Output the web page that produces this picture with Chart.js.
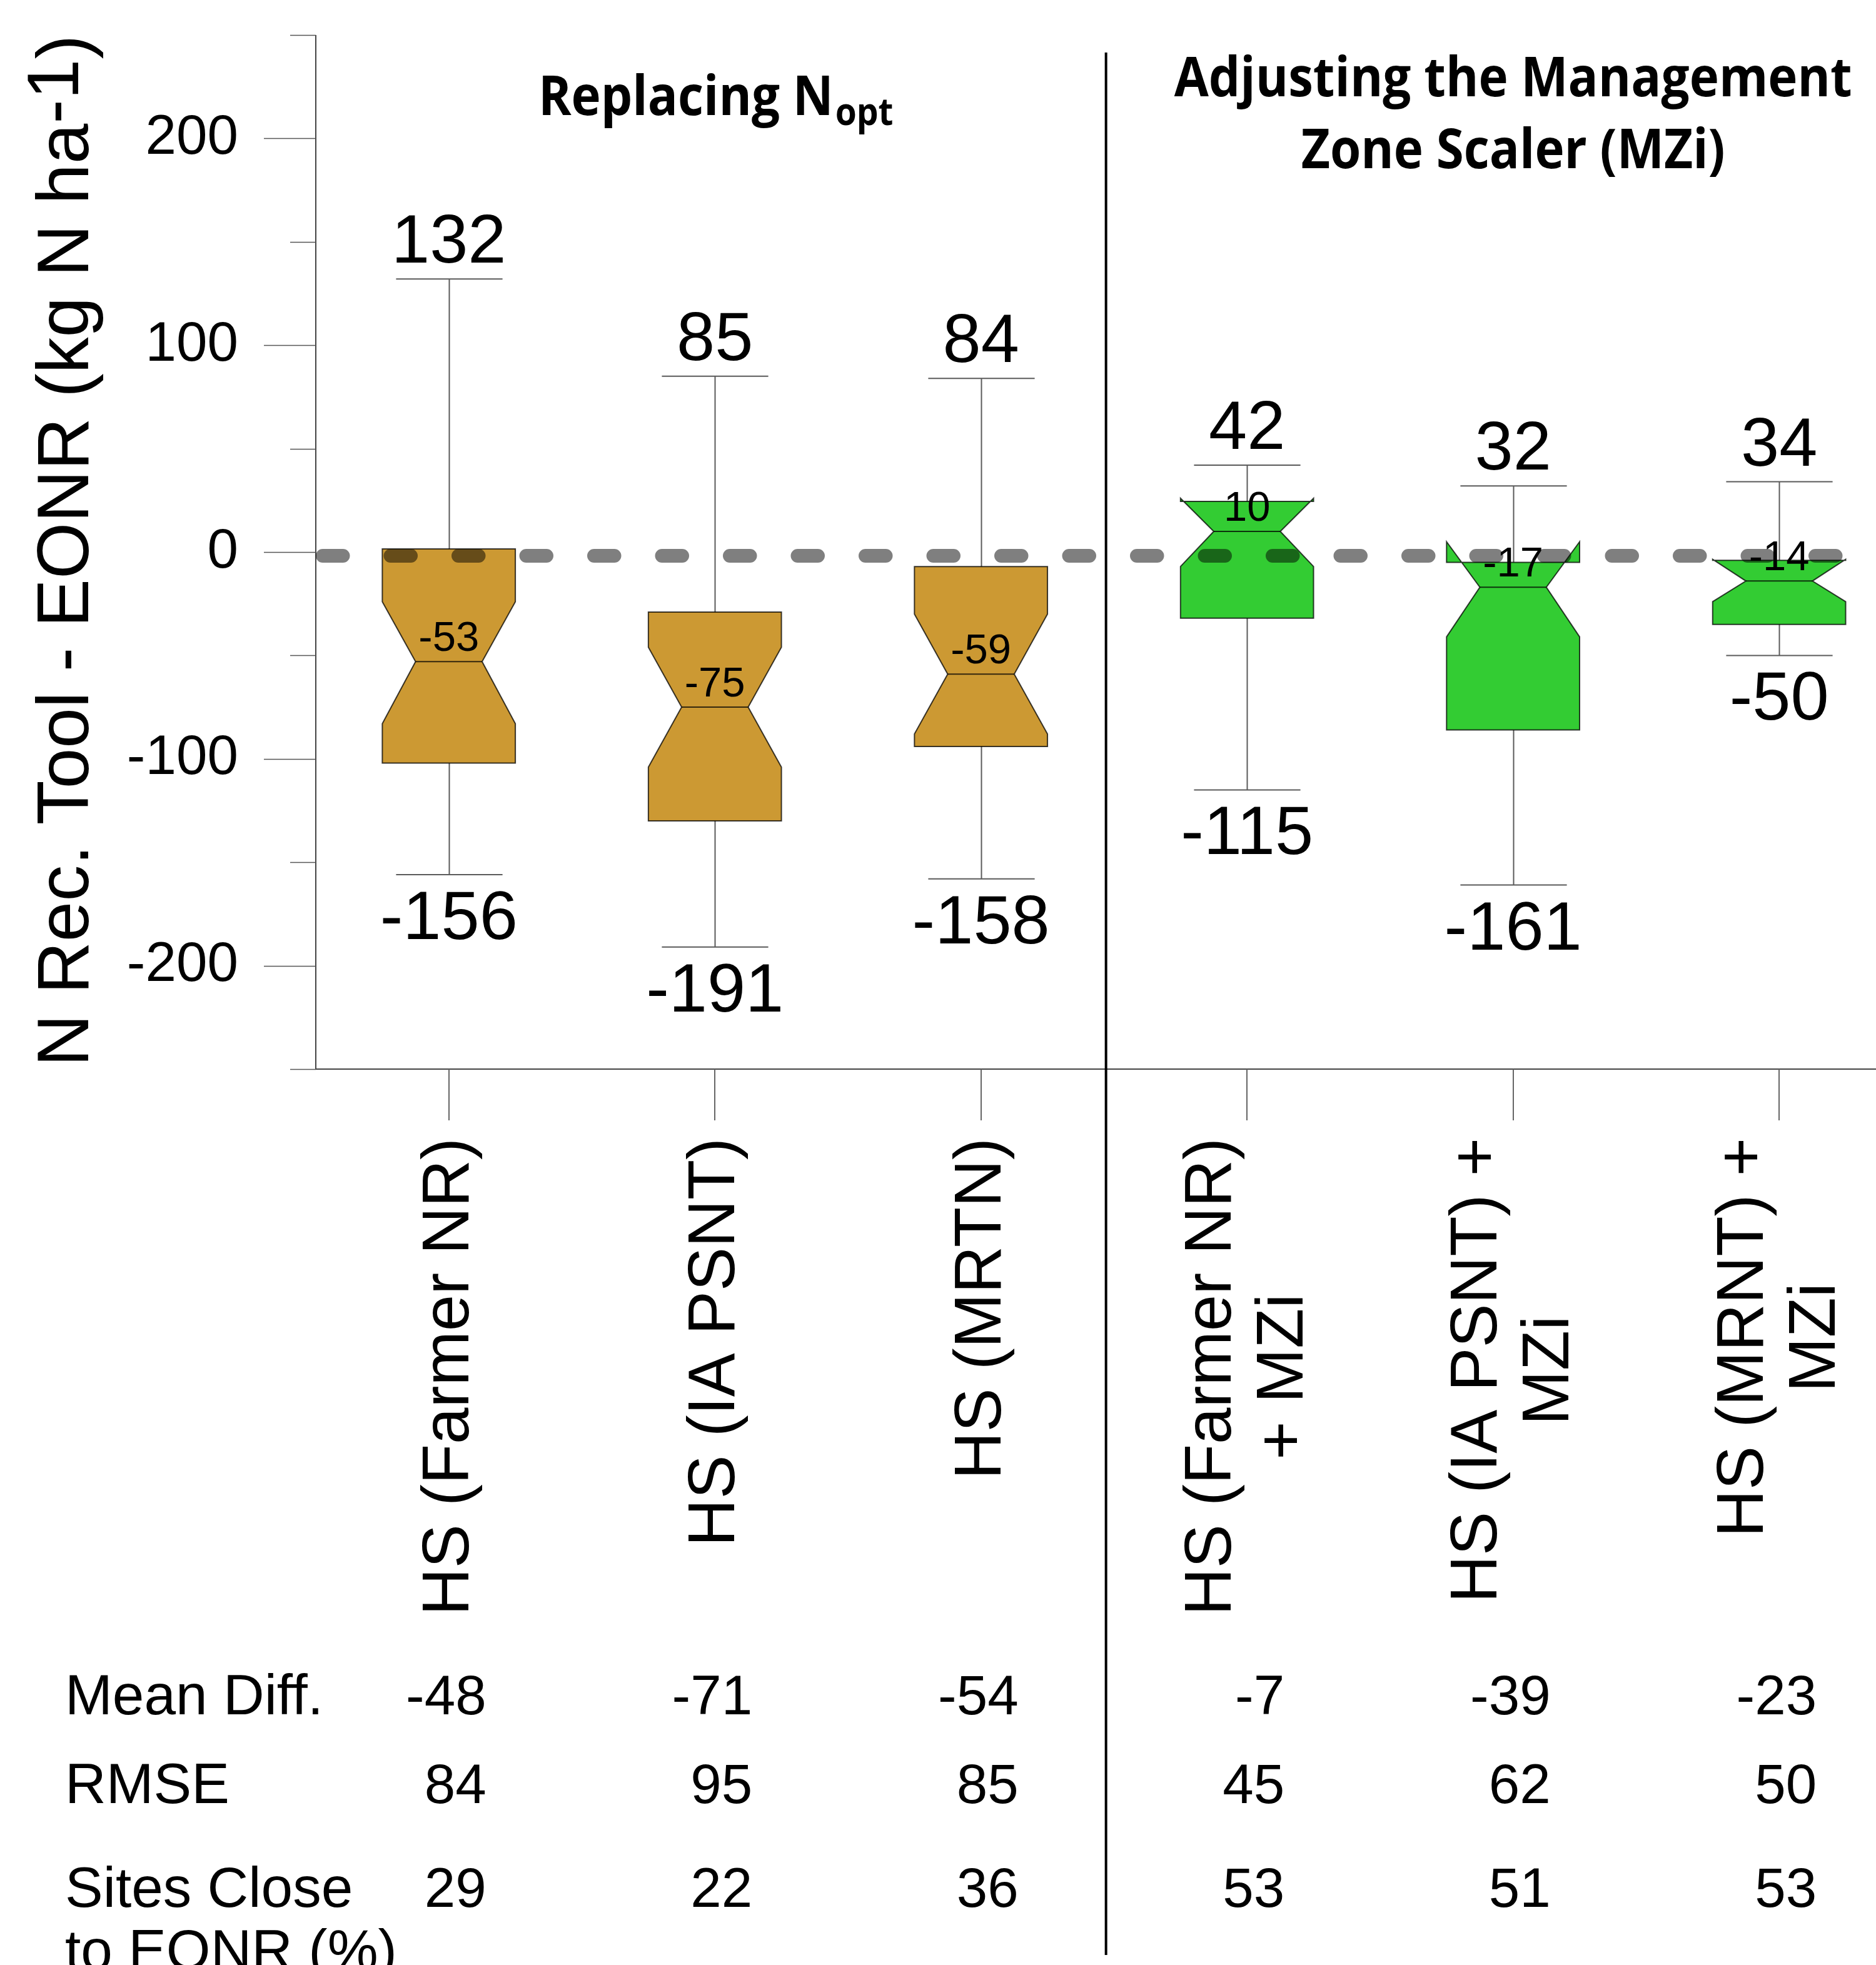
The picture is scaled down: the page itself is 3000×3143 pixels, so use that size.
<!DOCTYPE html>
<html>
<head>
<meta charset="utf-8">
<script src="https://cdn.jsdelivr.net/npm/chart.js@4.4.1/dist/chart.umd.min.js"></script>
<style>
  html, body { margin: 0; padding: 0; background: #ffffff; overflow: hidden; }
  canvas { display: block; }
</style>
</head>
<body>
<canvas id="chart" width="3000" height="3143"></canvas>
<script>
// ---- data -------------------------------------------------------------
const categories = [
  ["HS (Farmer NR)"],
  ["HS (IA PSNT)"],
  ["HS (MRTN)"],
  ["HS (Farmer NR)", "+ MZi"],
  ["HS (IA PSNT) +", "MZi"],
  ["HS (MRNT) +", "MZi"]
];
const whiskerHigh = [132, 85, 84, 42, 32, 34];
const q3          = [1.5, -29, -7, 24.5, -5, -4];
const notchHigh   = [-24, -46, -30, 26, 5, -3.5];
const median      = [-53, -75, -59, 10, -17, -14];
const notchLow    = [-83, -104, -88, -7, -41, -24];
const q1          = [-102, -130, -94, -32, -86, -35];
const whiskerLow  = [-156, -191, -158, -115, -161, -50];
const boxColors   = ["#CC9933", "#CC9933", "#CC9933", "#33CC33", "#33CC33", "#33CC33"];

const yMajorTicks = [-200, -100, 0, 100, 200];
const yTickLabels = ["-200", "-100", "0", "100", "200"];
const referenceLine = -1.8;
const panelDivider = 3.47;

const tableRows   = [["Mean Diff."], ["RMSE"], ["Sites Close", "to EONR (%)"]];
const meanDiff    = [-48, -71, -54, -7, -39, -23];
const rmse        = [84, 95, 85, 45, 62, 50];
const sitesClose  = [29, 22, 36, 53, 51, 53];

const panelTitles = [
  { at: 2, lines: [["Replacing N", "opt"]] },
  { at: 5, lines: [["Adjusting the Management"], ["Zone Scaler (MZi)"]] }
];

// ---- drawing helpers --------------------------------------------------
const SANS = '"Liberation Sans", Arial, sans-serif';
const HEAD = '"Open Sans", "Noto Sans", sans-serif';

function scaledText(ctx, text, x, y, font, sx, align) {
  ctx.save();
  ctx.font = font;
  ctx.translate(x, y);
  ctx.scale(sx, 1);
  ctx.textAlign = align || 'left';
  ctx.textBaseline = 'alphabetic';
  ctx.fillText(text, 0, 0);
  ctx.restore();
}

const notchedBoxes = {
  id: 'notchedBoxes',
  afterDatasetsDraw(chart) {
    const ctx = chart.ctx;
    const xs = chart.scales.x, ys = chart.scales.y, area = chart.chartArea;
    const px = v => xs.getPixelForValue(v);
    const py = v => ys.getPixelForValue(v);
    const unit = px(2) - px(1);
    const boxHalf = unit * 0.25, notchHalf = unit * 0.125, capHalf = unit * 0.2;

    ctx.save();
    ctx.fillStyle = '#000';

    // axes
    ctx.strokeStyle = '#444';
    ctx.lineWidth = 2;
    ctx.beginPath();
    ctx.moveTo(area.left, area.top); ctx.lineTo(area.left, area.bottom);
    ctx.moveTo(area.left, area.bottom); ctx.lineTo(area.right, area.bottom);
    ctx.stroke();

    // y ticks
    ctx.strokeStyle = '#555';
    ctx.lineWidth = 1.5;
    ys.ticks.forEach(t => {
      const major = yMajorTicks.includes(t.value);
      const len = major ? 83 : 41;
      const y = Math.round(py(t.value)) + 0.5;
      ctx.beginPath(); ctx.moveTo(area.left - len, y); ctx.lineTo(area.left, y); ctx.stroke();
    });
    ctx.font = '89px ' + SANS;
    ctx.textAlign = 'right';
    ctx.textBaseline = 'middle';
    yMajorTicks.forEach((v, i) => ctx.fillText(yTickLabels[i], area.left - 124, py(v)));

    // y axis title
    ctx.save();
    ctx.translate(141, 881);
    ctx.rotate(-Math.PI / 2);
    ctx.font = '116px ' + SANS;
    ctx.textBaseline = 'alphabetic';
    ctx.textAlign = 'left';
    const tMain = 'N Rec. Tool - EONR (kg N ha', tSup = '-1', tEnd = ')';
    const wMain = ctx.measureText(tMain).width, wSup = ctx.measureText(tSup).width, wEnd = ctx.measureText(tEnd).width;
    let tx = -(wMain + wSup + wEnd) / 2;
    ctx.fillText(tMain, tx, 0); tx += wMain;
    ctx.fillText(tSup, tx, -16); tx += wSup;
    ctx.fillText(tEnd, tx, 0);
    ctx.restore();

    // x ticks
    ctx.strokeStyle = '#666';
    ctx.lineWidth = 2;
    categories.forEach((c, i) => {
      const x = Math.round(px(i + 1));
      ctx.beginPath(); ctx.moveTo(x, area.bottom); ctx.lineTo(x, area.bottom + 82); ctx.stroke();
    });

    // category labels (rotated, lines centred on each other, block top-aligned)
    ctx.font = '105px ' + SANS;
    ctx.textBaseline = 'alphabetic';
    ctx.textAlign = 'center';
    categories.forEach((lines, i) => {
      const maxW = Math.max(...lines.map(l => ctx.measureText(l).width));
      const cx = px(i + 1);
      lines.forEach((line, j) => {
        const bx = cx + 31 + (j - (lines.length - 1) / 2) * 115;
        ctx.save();
        ctx.translate(bx, area.bottom + 110 + maxW / 2);
        ctx.rotate(-Math.PI / 2);
        ctx.fillText(line, 0, 0);
        ctx.restore();
      });
    });

    // whiskers
    ctx.strokeStyle = '#5a5a5a';
    ctx.lineWidth = 2;
    categories.forEach((c, i) => {
      const x = Math.round(px(i + 1)) + 0.5;
      ctx.beginPath();
      ctx.moveTo(x, py(whiskerHigh[i])); ctx.lineTo(x, py(q3[i]));
      ctx.moveTo(x, py(q1[i])); ctx.lineTo(x, py(whiskerLow[i]));
      ctx.moveTo(x - capHalf, py(whiskerHigh[i])); ctx.lineTo(x + capHalf, py(whiskerHigh[i]));
      ctx.moveTo(x - capHalf, py(whiskerLow[i])); ctx.lineTo(x + capHalf, py(whiskerLow[i]));
      ctx.stroke();
    });

    // notched boxes
    categories.forEach((c, i) => {
      const x = px(i + 1);
      const pts = [
        [x - boxHalf, q1[i]], [x - boxHalf, notchLow[i]], [x - notchHalf, median[i]],
        [x - boxHalf, notchHigh[i]], [x - boxHalf, q3[i]], [x + boxHalf, q3[i]],
        [x + boxHalf, notchHigh[i]], [x + notchHalf, median[i]], [x + boxHalf, notchLow[i]],
        [x + boxHalf, q1[i]]
      ];
      ctx.beginPath();
      pts.forEach((p, k) => k ? ctx.lineTo(p[0], py(p[1])) : ctx.moveTo(p[0], py(p[1])));
      ctx.closePath();
      ctx.fillStyle = boxColors[i];
      ctx.fill();
      ctx.strokeStyle = 'rgba(0,0,0,0.75)';
      ctx.lineWidth = 2;
      ctx.stroke();
      ctx.beginPath();
      ctx.moveTo(x - notchHalf, py(median[i])); ctx.lineTo(x + notchHalf, py(median[i]));
      ctx.stroke();
    });

    // reference line
    ctx.save();
    ctx.strokeStyle = 'rgba(0,0,0,0.5)';
    ctx.lineWidth = 22;
    ctx.lineCap = 'round';
    ctx.setLineDash([32.5, 76]);
    ctx.beginPath();
    ctx.moveTo(area.left + 11, py(referenceLine));
    ctx.lineTo(area.right, py(referenceLine));
    ctx.stroke();
    ctx.restore();

    // value labels
    ctx.fillStyle = '#000';
    categories.forEach((c, i) => {
      const x = px(i + 1);
      scaledText(ctx, String(median[i]), x, py(median[i]) - 17, '67px ' + SANS, 1, 'center');
      scaledText(ctx, String(whiskerHigh[i]), x, py(whiskerHigh[i]) - 26, '110px ' + SANS, 1, 'center');
      scaledText(ctx, String(whiskerLow[i]), x, py(whiskerLow[i]) + 103, '110px ' + SANS, 1, 'center');
    });

    // panel divider
    ctx.strokeStyle = '#000';
    ctx.lineWidth = 4;
    ctx.beginPath();
    ctx.moveTo(px(panelDivider), 84); ctx.lineTo(px(panelDivider), 3127);
    ctx.stroke();

    // panel titles
    ctx.font = 'bold 87px ' + HEAD;
    const headSx = 1084 / ctx.measureText('Adjusting the Management').width;
    const headBase = [[184], [154, 269]];
    panelTitles.forEach((p, k) => {
      const cx = px(p.at);
      p.lines.forEach((parts, j) => {
        ctx.font = 'bold 87px ' + HEAD;
        const w0 = ctx.measureText(parts[0]).width * headSx;
        let w1 = 0;
        if (parts[1]) { ctx.font = 'bold 60px ' + HEAD; w1 = ctx.measureText(parts[1]).width * headSx; }
        const x0 = cx - (w0 + w1) / 2;
        const base = headBase[k][j];
        scaledText(ctx, parts[0], x0, base, 'bold 87px ' + HEAD, headSx, 'left');
        if (parts[1]) scaledText(ctx, parts[1], x0 + w0 + 3, base + 16, 'bold 60px ' + HEAD, headSx, 'left');
      });
    });

    // statistics table
    const rowBase = [2742, 2884, 3050];
    const rowValues = [meanDiff, rmse, sitesClose];
    ctx.textBaseline = 'alphabetic';
    tableRows.forEach((label, r) => {
      ctx.font = '91px ' + SANS;
      ctx.textAlign = 'left';
      label.forEach((line, j) => ctx.fillText(line, 104, rowBase[r] + j * 100));
      ctx.font = '89px ' + SANS;
      ctx.textAlign = 'right';
      rowValues[r].forEach((v, i) => ctx.fillText(String(v), px(i + 1) + 60, rowBase[r]));
    });

    ctx.restore();
  }
};

new Chart(document.getElementById('chart'), {
  type: 'scatter',
  data: {
    datasets: [{
      label: 'Median',
      data: median.map((m, i) => ({ x: i + 1, y: m })),
      pointRadius: 0,
      showLine: false
    }]
  },
  options: {
    responsive: false,
    animation: false,
    layout: { padding: { left: 505, top: 56, right: 0, bottom: 1433 } },
    plugins: { legend: { display: false }, tooltip: { enabled: false } },
    scales: {
      x: { type: 'linear', min: 0.5, max: 6.364, display: false },
      y: { type: 'linear', min: -250, max: 250, display: false, ticks: { stepSize: 50 } }
    }
  },
  plugins: [notchedBoxes]
});
</script>
</body>
</html>
